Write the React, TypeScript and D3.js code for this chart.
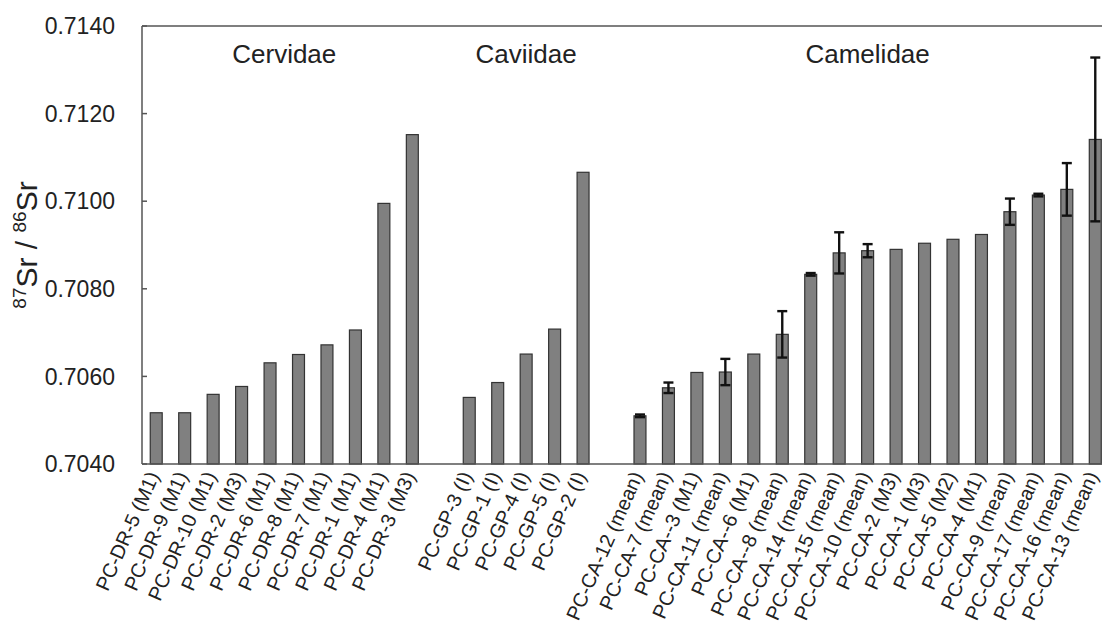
import React from "react";
import * as d3 from "d3";

const cervidaeLabels = ["PC-DR-5 (M1)", "PC-DR-9 (M1)", "PC-DR-10 (M1)", "PC-DR-2 (M3)", "PC-DR-6 (M1)", "PC-DR-8 (M1)", "PC-DR-7 (M1)", "PC-DR-1 (M1)", "PC-DR-4 (M1)", "PC-DR-3 (M3)"];
const cervidaeValues = [0.70517, 0.70517, 0.70559, 0.70577, 0.70631, 0.7065, 0.70672, 0.70706, 0.70995, 0.71152];

const caviidaeLabels = ["PC-GP-3 (I)", "PC-GP-1 (I)", "PC-GP-4 (I)", "PC-GP-5 (I)", "PC-GP-2 (I)"];
const caviidaeValues = [0.70552, 0.70586, 0.70651, 0.70708, 0.71066];

const camelidaeLabels = ["PC-CA-12 (mean)", "PC-CA-7 (mean)", "PC-CA--3 (M1)", "PC-CA-11 (mean)", "PC-CA--6 (M1)", "PC-CA--8 (mean)", "PC-CA-14 (mean)", "PC-CA-15 (mean)", "PC-CA-10 (mean)", "PC-CA-2 (M3)", "PC-CA-1 (M3)", "PC-CA-5 (M2)", "PC-CA-4 (M1)", "PC-CA-9 (mean)", "PC-CA-17 (mean)", "PC-CA-16 (mean)", "PC-CA-13 (mean)"];
const camelidaeValues = [0.7051, 0.70574, 0.70609, 0.7061, 0.70651, 0.70696, 0.70833, 0.70882, 0.70887, 0.7089, 0.70904, 0.70913, 0.70924, 0.70976, 0.71014, 0.71027, 0.71141];
const camelidaeErrors = [0.00003, 0.00012, 0, 0.0003, 0, 0.00053, 0.00003, 0.00047, 0.00015, 0, 0, 0, 0, 0.0003, 0.00003, 0.0006, 0.00187];

const groupNames = ["Cervidae", "Caviidae", "Camelidae"];
const yTicks = [0.704, 0.706, 0.708, 0.71, 0.712, 0.714];

type Row = { key: string; label: string; value: number; err: number; group: number };

const rows: Row[] = [];
cervidaeLabels.forEach((l, i) => rows.push({ key: l, label: l, value: cervidaeValues[i], err: 0, group: 0 }));
rows.push({ key: "gap1", label: "", value: NaN, err: 0, group: -1 });
caviidaeLabels.forEach((l, i) => rows.push({ key: l, label: l, value: caviidaeValues[i], err: 0, group: 1 }));
rows.push({ key: "gap2", label: "", value: NaN, err: 0, group: -1 });
camelidaeLabels.forEach((l, i) => rows.push({ key: l, label: l, value: camelidaeValues[i], err: camelidaeErrors[i], group: 2 }));

const W = 1102;
const H = 629;
const left = 142;
const top = 26;
const bottom = 464;
const right = 1109.5;
const font = "'Liberation Sans', Arial, Helvetica, sans-serif";

export default function App() {
  const x = d3.scaleBand<string>().domain(rows.map((r) => r.key)).range([left, right]).paddingInner(0.58).paddingOuter(0.29);
  const y = d3.scaleLinear().domain([0.704, 0.714]).range([bottom, top]);
  const bw = x.bandwidth();

  const groupCenters = [0, 1, 2].map((g) => {
    const rs = rows.filter((r) => r.group === g);
    const a = x(rs[0].key)! + bw / 2;
    const b = x(rs[rs.length - 1].key)! + bw / 2;
    return (a + b) / 2;
  });

  return (
    <svg width={W} height={H} style={{ position: "absolute", left: 0, top: 0, background: "#fff" }} fontFamily={font}>
      <rect x={0} y={0} width={W} height={H} fill="#fff" />
      <line x1={left} x2={W} y1={top} y2={top} stroke="#555" strokeWidth={1.5} />
      <line x1={left} x2={left} y1={top} y2={bottom} stroke="#555" strokeWidth={1.5} />
      {yTicks.map((t) => (
        <g key={t}>
          <line x1={left} x2={left + 5} y1={y(t)} y2={y(t)} stroke="#555" strokeWidth={1.5} />
          <text x={115} y={y(t)} dy="0.36em" textAnchor="end" fontSize={23} fill="#222">
            {d3.format(".4f")(t)}
          </text>
        </g>
      ))}
      {rows.filter((r) => r.group >= 0).map((r) => {
        const x0 = x(r.key)!;
        return (
          <rect key={r.key} x={x0} y={y(r.value)} width={bw} height={bottom - y(r.value)} fill="#808080" stroke="#333" strokeWidth={1.2} />
        );
      })}
      {rows.filter((r) => r.err > 0).map((r) => {
        const cx = x(r.key)! + bw / 2;
        const y1 = y(r.value + r.err);
        const y2 = y(r.value - r.err);
        return (
          <g key={"e" + r.key} stroke="#111" strokeWidth={2.4}>
            <line x1={cx} x2={cx} y1={y1} y2={y2} />
            <line x1={cx - 5} x2={cx + 5} y1={y1} y2={y1} />
            <line x1={cx - 5} x2={cx + 5} y1={y2} y2={y2} />
          </g>
        );
      })}
      <line x1={left} x2={W} y1={bottom} y2={bottom} stroke="#555" strokeWidth={1.5} />
      {rows.filter((r) => r.group >= 0).map((r) => {
        const cx = x(r.key)! + bw / 2;
        return (
          <text key={"l" + r.key} transform={`translate(${cx - 2},${bottom + 9}) rotate(-66)`} textAnchor="end" dy="0.3em" fontSize={20} fill="#222">
            {r.label}
          </text>
        );
      })}
      {groupNames.map((g, i) => (
        <text key={g} x={groupCenters[i]} y={63} textAnchor="middle" fontSize={26} fill="#222">
          {g}
        </text>
      ))}
      <text transform={`translate(37,${(top + bottom) / 2}) rotate(-90)`} textAnchor="middle" fontSize={30} fill="#222">
        <tspan fontSize={19} dy="-11">87</tspan>
        <tspan dy="11">Sr / </tspan>
        <tspan fontSize={19} dy="-11">86</tspan>
        <tspan dy="11">Sr</tspan>
      </text>
    </svg>
  );
}
